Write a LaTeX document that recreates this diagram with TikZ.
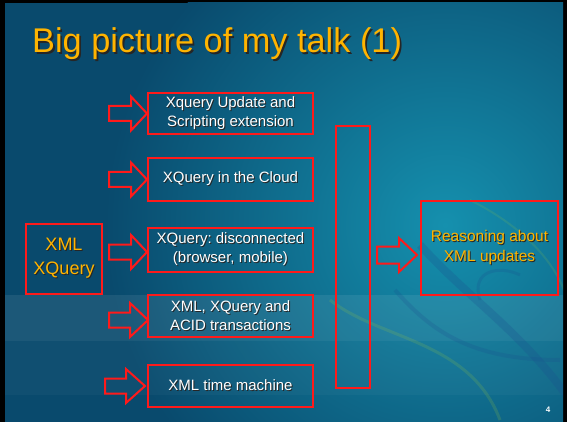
\documentclass[tikz,border=0pt]{standalone}
\usepackage{fontspec}
\setmainfont{Liberation Sans}
\usetikzlibrary{calc}
\frenchspacing

\definecolor{slidedark}{HTML}{094A6D}
\definecolor{slidelight}{HTML}{1590AE}
\definecolor{titlegold}{HTML}{FFB400}
\definecolor{boxred}{HTML}{FF1A1A}
\definecolor{swirlblue}{HTML}{1B4F8F}
\definecolor{swirlgreen}{HTML}{9BC83C}

% text with a small dark drop shadow
\newcommand{\sh}[1]{\rlap{\kern1pt\raisebox{-1pt}{\textcolor{black!85}{#1}}}#1}
\newcommand{\shbig}[1]{\rlap{\kern1.8pt\raisebox{-1.8pt}{\textcolor{black!85}{#1}}}#1}

% outlined block arrow ending at point #1
% #2 total length, #3 head length, #4 shaft half width
\newcommand{\blockarrow}[4]{%
  \draw[arrowline] #1 -- ++(-#3,-17) -- ++(0,17-#4) -- ++(-#2+#3,0)
    -- ++(0,2*#4) -- ++(#2-#3,0) -- ++(0,17-#4) -- cycle;}

\tikzset{
  redbox/.style={draw=boxred, line width=2pt, minimum width=165pt,
    inner sep=0pt, align=center, text=white, font=\fontsize{15}{19}\selectfont},
  arrowline/.style={draw=boxred, line width=2pt, line join=miter},
}

\begin{document}
\begin{tikzpicture}[x=1pt, y=-1pt]
\useasboundingbox (0,0) rectangle (567,422);

% slide background
\fill[black] (0,0) rectangle (567,422);
\begin{scope}
  \clip (5,3) rectangle (563,422);
  \fill[slidedark] (5,3) rectangle (563,422);
  \shade[inner color=slidelight, outer color=slidedark]
    (445,225) circle[radius=340];
  \fill[white, opacity=0.08] (5,295) rectangle (563,341);
  \fill[white, opacity=0.03] (5,341) rectangle (563,395);
  % decorative swirls
  \draw[swirlblue, line width=8pt, opacity=0.25]
    (420,245) .. controls (470,300) and (520,330) .. (570,400);
  \draw[swirlblue, line width=4pt, opacity=0.22]
    (395,290) .. controls (430,330) and (470,360) .. (560,360);
  \draw[swirlgreen, line width=3pt, opacity=0.18]
    (330,300) .. controls (380,340) and (470,340) .. (500,420);
  \draw[swirlgreen, line width=2pt, opacity=0.15]
    (470,200) .. controls (530,230) and (560,270) .. (567,300);
  \draw[swirlblue, line width=3pt, opacity=0.22]
    (480,300) .. controls (470,270) and (500,265) .. (520,275);
\end{scope}

% title
\node[anchor=base west, inner sep=0pt, text=titlegold,
      font=\fontsize{34.3}{40}\selectfont] (title) at (32,53)
  {\shbig{Big picture of my talk (1)}};

% source box
\node[redbox, minimum width=76pt, minimum height=70pt, text=titlegold,
      font=\fontsize{18}{24}\selectfont] (xml) at (64,259)
  {\sh{XML}\\\sh{XQuery}};

% topic boxes
\node[redbox, minimum height=41pt] (upd) at (230.5,113.5)
  {\sh{Xquery Update and}\\\sh{Scripting extension}};
\node[redbox, minimum height=43pt] (cloud) at (230.5,179.5)
  {\sh{XQuery in the Cloud}};
\node[redbox, minimum height=44pt] (disc) at (230.5,250)
  {\sh{XQuery: disconnected}\\\sh{(browser, mobile)}};
\node[redbox, minimum height=42pt] (acid) at (230.5,316)
  {\sh{XML, XQuery and}\\\sh{ACID transactions}};
\node[redbox, minimum height=42pt] (time) at (230.5,386)
  {\sh{XML time machine}};

% collecting bar and result
\node[redbox, minimum width=34pt, minimum height=262pt] (bar) at (353,257) {};
\node[redbox, minimum width=137pt, minimum height=94pt, text=titlegold,
      font=\fontsize{15.5}{20}\selectfont] (reason) at (489.5,248)
  {\sh{Reasoning about}\\\sh{XML updates}};

% arrows
\blockarrow{(upd.west)}{38}{16}{7.5}
\blockarrow{(cloud.west)}{38}{16}{7.5}
\blockarrow{($(disc.west)+(0,2)$)}{38}{16}{7.5}
\blockarrow{($(acid.west)+(1,4)$)}{39}{18}{7.5}
\blockarrow{($(time.west)+(-2,0)$)}{40}{19}{7.5}
\blockarrow{($(reason.west)+(-3,7)$)}{40}{18}{8.5}

% page number
\node[text=white, font=\bfseries\fontsize{8}{9}\selectfont, inner sep=0pt]
  (pageno) at (548,410) {4};
\end{tikzpicture}
\end{document}
